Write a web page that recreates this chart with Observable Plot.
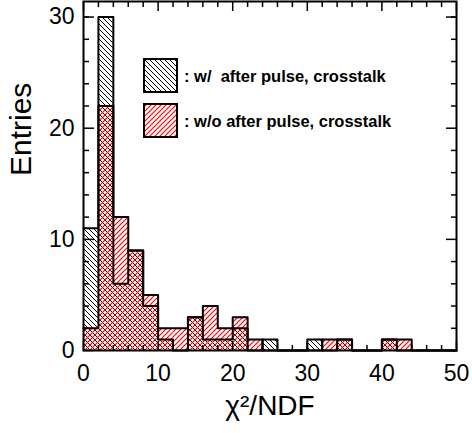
<!DOCTYPE html>
<html>
<head>
<meta charset="utf-8">
<script src="https://cdn.jsdelivr.net/npm/d3@7"></script>
<script src="https://cdn.jsdelivr.net/npm/@observablehq/plot@0.6"></script>
<style>
  html, body { margin: 0; padding: 0; background: #fff; }
  #wrap { position: relative; width: 472px; height: 433px; font-family: "Liberation Sans", Arial, Helvetica, sans-serif; }
  #legend { position: absolute; left: 143px; top: 58px; }
  .item { display: flex; align-items: center; height: 35px; margin-bottom: 10px; }
  .item span { font-weight: bold; font-size: 16.5px; margin-left: 6px; margin-top: 2px; white-space: pre; color: #000; }
  .item svg { display: block; }
</style>
</head>
<body>
<svg width="0" height="0" style="position:absolute">
  <defs>
    <pattern id="hatchBlack" patternUnits="userSpaceOnUse" width="5" height="5">
      <path d="M0,0 L5,5 M-1,4 L1,6 M4,-1 L6,1" stroke="#000" stroke-width="1" fill="none"/>
    </pattern>
    <pattern id="hatchRed" patternUnits="userSpaceOnUse" width="5" height="5">
      <path d="M0,5 L5,0 M-1,1 L1,-1 M4,6 L6,4" stroke="#ff0000" stroke-width="1.2" fill="none"/>
    </pattern>
  </defs>
</svg>
<div id="wrap">
  <div id="chart"></div>
  <div id="legend"></div>
</div>
<script>
// ---- data ----
const binWidth = 2;
const binLow = [0,2,4,6,8,10,12,14,16,18,20,22,24,26,28,30,32,34,36,38,40,42,44,46,48];
const withAP    = [11,30,6,9,4,1,0,3,1,1,2,0,1,0,0,1,0,1,0,0,1,0,0,0,0];
const withoutAP = [2,22,12,9,5,2,2,3,4,2,3,1,0,0,0,0,1,1,0,0,1,1,0,0,0];
const seriesNames = [": w/  after pulse, crosstalk", ": w/o after pulse, crosstalk"];
const xMajor = [0,10,20,30,40,50];
const xMinor = [2,4,6,8,12,14,16,18,22,24,26,28,32,34,36,38,42,44,46,48];
const yMajor = [0,10,20,30];
const yMinor = [2,4,6,8,12,14,16,18,22,24,26,28,30];
const xLabel = "χ²/NDF";
const yLabel = "Entries";

const bars = (vals) => binLow.map((lo, i) => ({x1: lo, x2: lo + binWidth, y: vals[i]}));
const steps = (vals) => {
  const pts = binLow.map((lo, i) => ({x: lo, y: vals[i]}));
  pts.push({x: binLow[binLow.length - 1] + binWidth, y: vals[vals.length - 1]});
  return pts;
};

const blank = () => "";
const chart = Plot.plot({
  width: 472,
  height: 433,
  marginLeft: 83,
  marginRight: 16,
  marginTop: 1,
  marginBottom: 83,
  style: {fontFamily: '"Liberation Sans", Arial, Helvetica, sans-serif', background: "#fff", color: "#000", overflow: "visible"},
  x: {domain: [0, 50]},
  y: {domain: [0, 31.4]},
  marks: [
    Plot.rectY(bars(withAP), {x1: "x1", x2: "x2", y: "y", fill: "url(#hatchBlack)", inset: 0}),
    Plot.rectY(bars(withoutAP), {x1: "x1", x2: "x2", y: "y", fill: "url(#hatchRed)", inset: 0}),
    Plot.line(steps(withAP), {x: "x", y: "y", curve: "step-after", stroke: "#000", strokeWidth: 2}),
    Plot.line(steps(withoutAP), {x: "x", y: "y", curve: "step-after", stroke: "#000", strokeWidth: 2}),
    // ticks inside frame
    Plot.axisY({anchor: "left", ticks: yMajor, tickSize: -11, tickFormat: blank, label: null, strokeWidth: 1.5}),
    Plot.axisY({anchor: "left", ticks: yMinor, tickSize: -6, tickFormat: blank, label: null, strokeWidth: 1.5}),
    Plot.axisY({anchor: "right", ticks: yMajor, tickSize: -11, tickFormat: blank, label: null, strokeWidth: 1.5}),
    Plot.axisY({anchor: "right", ticks: yMinor, tickSize: -6, tickFormat: blank, label: null, strokeWidth: 1.5}),
    Plot.axisX({anchor: "bottom", ticks: xMajor, tickSize: -9, tickFormat: blank, label: null, strokeWidth: 1.5}),
    Plot.axisX({anchor: "bottom", ticks: xMinor, tickSize: -5, tickFormat: blank, label: null, strokeWidth: 1.5}),
    Plot.axisX({anchor: "top", ticks: xMajor, tickSize: -9, tickFormat: blank, label: null, strokeWidth: 1.5}),
    Plot.axisX({anchor: "top", ticks: xMinor, tickSize: -5, tickFormat: blank, label: null, strokeWidth: 1.5}),
    // tick labels
    Plot.axisY({anchor: "left", ticks: yMajor, tickSize: 0, tickPadding: 9, fontSize: 23, label: null, tickFormat: d => String(d)}),
    Plot.axisX({anchor: "bottom", ticks: xMajor, tickSize: 0, tickPadding: 14, fontSize: 23, label: null, tickFormat: d => String(d)}),
    // axis titles
    Plot.text([xLabel], {text: d => d, frameAnchor: "bottom", dy: 64, fontSize: 28}),
    Plot.text([yLabel], {text: d => d, frameAnchor: "left", dx: -62, rotate: -90, fontSize: 30}),
    Plot.frame({stroke: "#000", strokeWidth: 2})
  ]
});
document.getElementById("chart").appendChild(chart);

// legend
const legend = document.getElementById("legend");
["url(#hatchBlack)", "url(#hatchRed)"].forEach((fill, i) => {
  const item = document.createElement("div");
  item.className = "item";
  item.innerHTML = `<svg width="35" height="35"><rect x="1" y="1" width="33" height="33" fill="${fill}" stroke="#000" stroke-width="2"/></svg><span>${seriesNames[i]}</span>`;
  legend.appendChild(item);
});
</script>
</body>
</html>
